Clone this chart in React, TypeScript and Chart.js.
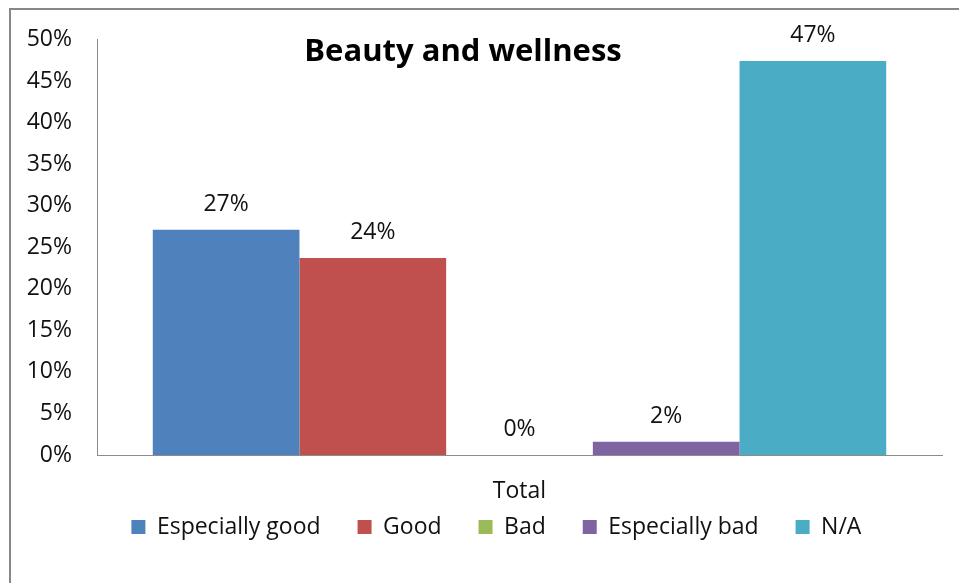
import React, { useEffect, useRef } from "react";
import { Chart, registerables } from "chart.js";

Chart.register(...registerables);

const categories = ["Total"];
const seriesNames = ["Especially good", "Good", "Bad", "Especially bad", "N/A"];
const seriesValues = [27.1, 23.7, 0, 1.6, 47.4];
const seriesColors = ["#4F81BD", "#C0504D", "#9BBB59", "#8064A2", "#4BACC6"];
const yTicks = [0, 5, 10, 15, 20, 25, 30, 35, 40, 45, 50];
const chartTitle = "Beauty and wellness";

const FONT = "'Open Sans', 'DejaVu Sans', sans-serif";
const FONT_SIZE = 23;
const TEXT = "#111111";
const AXIS = "#8c8c8c";

// Percentage labels above each bar
const valueLabels = {
  id: "valueLabels",
  afterDatasetsDraw(chart: any) {
    const ctx = chart.ctx;
    ctx.save();
    ctx.font = `${FONT_SIZE}px ${FONT}`;
    ctx.fillStyle = TEXT;
    ctx.textAlign = "center";
    ctx.textBaseline = "alphabetic";
    chart.data.datasets.forEach((ds: any, i: number) => {
      const meta = chart.getDatasetMeta(i);
      meta.data.forEach((bar: any, j: number) => {
        const v = ds.data[j];
        ctx.fillText(`${Math.round(v)}%`, bar.x, bar.y - 19);
      });
    });
    ctx.restore();
  },
};

// Bold title drawn inside the plot area
const insetTitle = {
  id: "insetTitle",
  afterDraw(chart: any) {
    const ctx = chart.ctx;
    const area = chart.chartArea;
    ctx.save();
    ctx.font = `bold 31px ${FONT}`;
    ctx.fillStyle = "#000";
    ctx.textAlign = "center";
    ctx.textBaseline = "alphabetic";
    ctx.fillText(chartTitle, area.left + 366, 60.5);
    ctx.restore();
  },
};

// Pull the legend row up under the axis label and nudge it right
const legendPlacement = {
  id: "legendPlacement",
  afterLayout(chart: any) {
    const lg = chart.legend;
    if (!lg) return;
    const dy = -26.5;
    const dx = 25.4;
    lg.top += dy;
    lg.bottom += dy;
    lg.left += dx;
    lg.right += dx;
  },
};

export default function App() {
  const ref = useRef<HTMLCanvasElement | null>(null);

  useEffect(() => {
    if (!ref.current) return;
    const chart = new Chart(ref.current, {
      type: "bar",
      data: {
        labels: categories,
        datasets: seriesNames.map((name, i) => ({
          label: name,
          data: [seriesValues[i]],
          backgroundColor: seriesColors[i],
          borderWidth: 0,
          barPercentage: 1,
          categoryPercentage: 0.868,
        })),
      },
      options: {
        responsive: false,
        animation: false,
        devicePixelRatio: 1,
        layout: { padding: { left: 0, right: 17, top: 39.5, bottom: 8 } },
        plugins: {
          title: { display: false },
          tooltip: { enabled: false },
          legend: {
            display: true,
            position: "bottom",
            labels: {
              boxWidth: 14,
              boxHeight: 14,
              padding: 37,
              color: TEXT,
              font: { family: FONT, size: FONT_SIZE },
            },
          },
        },
        scales: {
          x: {
            grid: { display: false, drawTicks: false },
            border: { display: true, color: AXIS, width: 1 },
            ticks: { color: TEXT, font: { family: FONT, size: FONT_SIZE }, padding: 23 },
            afterFit(scale: any) {
              scale.height = 50;
            },
          },
          y: {
            min: 0,
            max: 50,
            grid: { display: false, drawTicks: false },
            border: { display: true, color: AXIS, width: 1 },
            afterBuildTicks(scale: any) {
              scale.ticks = yTicks.map((v) => ({ value: v }));
            },
            ticks: {
              color: TEXT,
              font: { family: FONT, size: FONT_SIZE },
              padding: 25,
              callback: (v: any) => `${v}%`,
            },
            afterFit(scale: any) {
              scale.width = 97;
            },
          },
        },
      },
      plugins: [valueLabels, insetTitle, legendPlacement],
    });
    return () => chart.destroy();
  }, []);

  return (
    <div
      style={{
        position: "fixed",
        left: 0,
        top: 0,
        width: 959,
        height: 583,
        overflow: "hidden",
        background: "#fff",
      }}
    >
      <canvas
        ref={ref}
        width={959}
        height={583}
        style={{ position: "absolute", left: 0, top: 0, width: 959, height: 583 }}
      />
      <div
        style={{
          position: "absolute",
          left: 9,
          top: 8,
          width: 1200,
          height: 1000,
          border: "2px solid #878787",
          pointerEvents: "none",
        }}
      />
    </div>
  );
}
